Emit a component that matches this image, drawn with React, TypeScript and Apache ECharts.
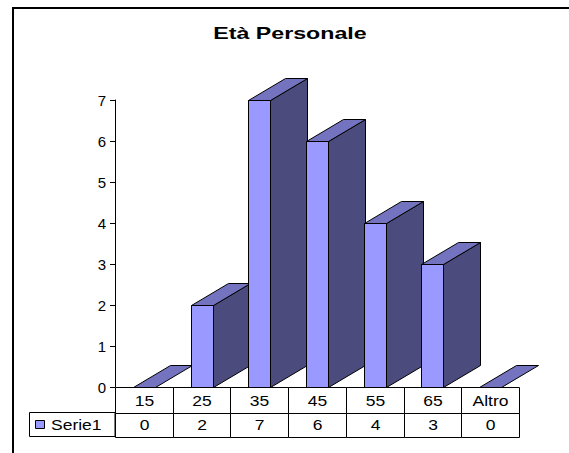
import React, { useEffect, useRef } from "react";
import * as echarts from "echarts";

const title = "Età Personale";
const seriesName = "Serie1";
const categories = ["15", "25", "35", "45", "55", "65", "Altro"];
const values = [0, 2, 7, 6, 4, 3, 0];
const yTicks = [0, 1, 2, 3, 4, 5, 6, 7];

const FRONT = "#9999FF";
const TOP = "#7373BF";
const SIDE = "#4B4B7E";
const FONT = "'Liberation Sans', Arial, sans-serif";
const TXT_SCALE = 1.25;

export default function App() {
  const ref = useRef<HTMLDivElement>(null);
  useEffect(() => {
    document.body.style.margin = "0";
    const chart = echarts.init(ref.current!, null, { renderer: "svg" });
    const DX = 37;
    const DY = -22;
    const FW = 22;
    const ROW1 = 26;
    const ROW2 = 24;
    chart.setOption({
      animation: false,
      backgroundColor: "#fff",
      grid: { left: 115, right: 50, top: 100, bottom: 66 },
      xAxis: {
        type: "category",
        data: categories,
        boundaryGap: true,
        axisLine: { show: false },
        axisTick: { show: false },
        axisLabel: { show: false },
      },
      yAxis: {
        type: "value",
        min: yTicks[0],
        max: yTicks[yTicks.length - 1],
        interval: 1,
        axisLine: { show: true, lineStyle: { color: "#000", width: 1 } },
        axisTick: { show: true, length: 5, lineStyle: { color: "#000" } },
        axisLabel: { margin: 9, fontFamily: FONT, fontSize: 15, color: "#000" },
        splitLine: { show: false },
      },
      graphic: [
        {
          type: "text",
          x: 290,
          y: 33,
          scaleX: 1.45,
          style: {
            text: title,
            align: "center",
            verticalAlign: "middle",
            fontFamily: FONT,
            fontSize: 16,
            fontWeight: "bold",
            fill: "#000",
          },
        },
        {
          type: "rect",
          shape: { x: 13, y: 8, width: 620, height: 520 },
          style: { fill: "none", stroke: "#000", lineWidth: 2 },
          z: 100,
        },
        {
          type: "rect",
          shape: { x: 29.5, y: 412.5, width: 85.5, height: ROW2 },
          style: { fill: "none", stroke: "#000", lineWidth: 1 },
          z: 100,
        },
        {
          type: "rect",
          shape: { x: 35.5, y: 420.5, width: 9, height: 8 },
          style: { fill: FRONT, stroke: "#000", lineWidth: 1 },
          z: 100,
        },
        {
          type: "text",
          x: 51,
          y: 425,
          scaleX: TXT_SCALE,
          style: {
            text: seriesName,
            align: "left",
            verticalAlign: "middle",
            fontFamily: FONT,
            fontSize: 14,
            fill: "#000",
          },
          z: 100,
        },
      ],
      series: [
        {
          type: "custom",
          name: seriesName,
          clip: false,
          itemStyle: { color: FRONT, borderColor: "#000", borderWidth: 1 },
          data: values.map((v, i) => [i, v]),
          renderItem: (params: any, api: any) => {
            const idx = api.value(0);
            const val = api.value(1);
            const base = api.coord([idx, 0]);
            const top = api.coord([idx, val]);
            const bandW = api.size([1, 0])[0];
            const cx = base[0];
            const x0 = Math.round(cx - FW / 2) + 0.5;
            const x1 = x0 + FW;
            const yb = Math.round(base[1]) + 0.5;
            const yt = Math.round(top[1]) + 0.5;
            const stroke = { stroke: "#000", lineWidth: 1 };
            const children: any[] = [];
            if (yb - yt > 0.5) {
              children.push({
                type: "polygon",
                shape: { points: [[x1, yt], [x1 + DX, yt + DY], [x1 + DX, yb + DY], [x1, yb]] },
                style: { fill: SIDE, ...stroke },
              });
              children.push({
                type: "rect",
                shape: { x: x0, y: yt, width: FW, height: yb - yt },
                style: { fill: FRONT, ...stroke },
              });
            }
            children.push({
              type: "polygon",
              shape: { points: [[x0, yt], [x0 + DX, yt + DY], [x1 + DX, yt + DY], [x1, yt]] },
              style: { fill: TOP, ...stroke },
            });
            const left = Math.round(cx - bandW / 2) + 0.5;
            const right = Math.round(cx + bandW / 2) + 0.5;
            children.push({
              type: "rect",
              shape: { x: left, y: yb, width: right - left, height: ROW1 },
              style: { fill: "#fff", ...stroke },
              z2: 10,
            });
            children.push({
              type: "rect",
              shape: { x: left, y: yb + ROW1, width: right - left, height: ROW2 },
              style: { fill: "#fff", ...stroke },
              z2: 10,
            });
            children.push({
              type: "text",
              x: (left + right) / 2,
              y: yb + ROW1 / 2 + 1,
              scaleX: TXT_SCALE,
              style: {
                text: categories[idx],
                align: "center",
                verticalAlign: "middle",
                fontFamily: FONT,
                fontSize: 14,
                fill: "#000",
              },
              z2: 11,
            });
            children.push({
              type: "text",
              x: (left + right) / 2,
              y: yb + ROW1 + ROW2 / 2,
              scaleX: TXT_SCALE,
              style: {
                text: String(val),
                align: "center",
                verticalAlign: "middle",
                fontFamily: FONT,
                fontSize: 14,
                fill: "#000",
              },
              z2: 11,
            });
            return { type: "group", children };
          },
        },
      ],
    });
    return () => chart.dispose();
  }, []);
  return <div ref={ref} style={{ width: 569, height: 453 }} />;
}
